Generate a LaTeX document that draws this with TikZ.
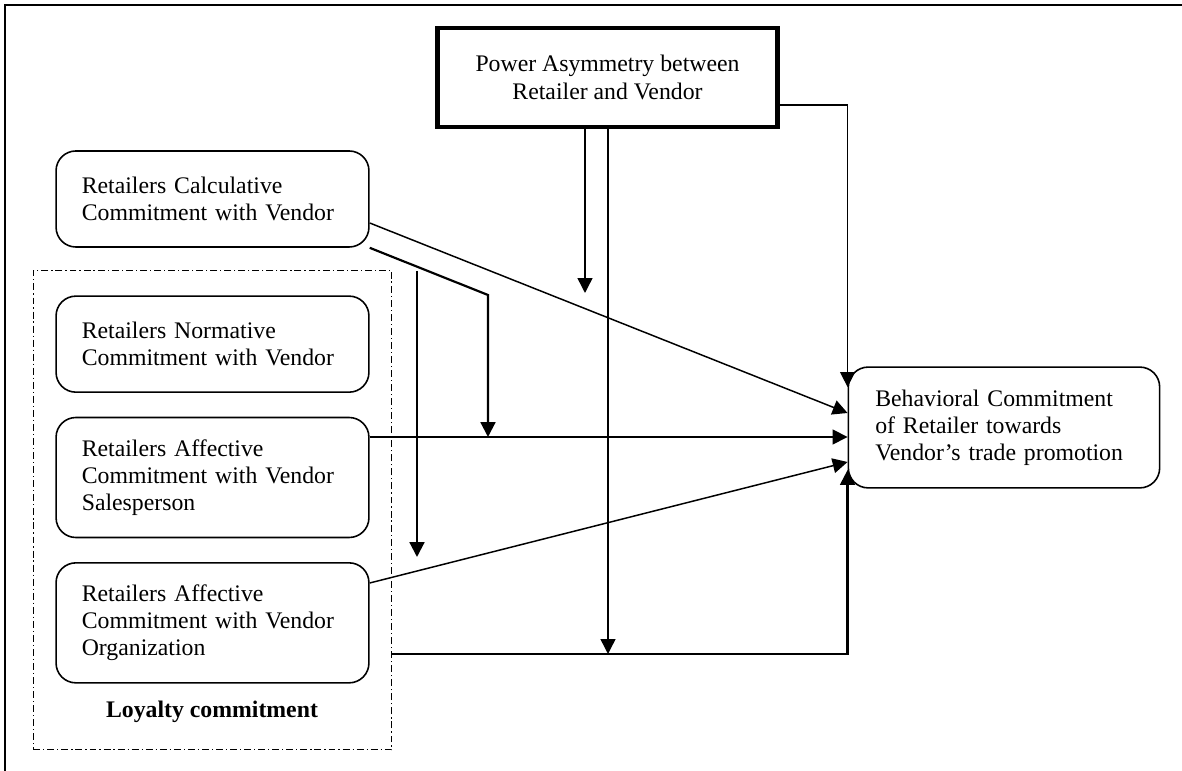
\documentclass[tikz,border=0pt]{standalone}
\usepackage{fontspec}
\setmainfont{Liberation Serif}
\usetikzlibrary{positioning, arrows.meta, calc}
\tikzset{
	>={Triangle[length=7.5pt,width=7.5pt]},
	x=0.505pt, y=-0.505pt,
	every node/.style={font=\fontsize{12pt}{13.7pt}\selectfont},
	factor/.style={draw, rounded corners=10pt, line width=0.8pt, text width=132pt, inner xsep=13pt, align=left},
	powerbox/.style={draw, line width=2.5pt, minimum width=172pt, minimum height=50pt, align=center},
	loyaltybox/.style={draw, line width=0.75pt, dash pattern=on 3.5pt off 1.5pt on 0.6pt off 1.5pt, minimum width=181pt, minimum height=242pt},
	link/.style={->, line width=0.75pt},
	boldlink/.style={->, line width=1.1pt},
}

\begin{document}
\begin{tikzpicture}
	\useasboundingbox (0,0) rectangle (1182,771);
	\draw[line width=1.3pt] (1182,5) -- (5,5) -- (5,771);

	\node[loyaltybox] (LOYAL) at (212.5,510) {};
	\node[font=\fontsize{12pt}{13.7pt}\selectfont\bfseries] (LOYALTEXT) at (212,712) {Loyalty commitment};

	\node[powerbox] (POWER) at (607.5,77.5) {Power Asymmetry between\\Retailer and Vendor};
	\node[factor, minimum height=48.5pt] (CALC) at (212.5,199) {Retailers Calculative\\Commitment with Vendor};
	\node[factor, minimum height=48.5pt, below=24pt of CALC] (NORM) {Retailers Normative\\Commitment with Vendor};
	\node[factor, minimum height=60.6pt, below=12pt of NORM] (SALES) {Retailers Affective\\Commitment with Vendor\\Salesperson};
	\node[factor, minimum height=60.6pt, below=12pt of SALES] (ORG) {Retailers Affective\\Commitment with Vendor\\Organization};
	\node[factor, text width=130pt, inner xsep=13.6pt, minimum height=61pt] (BEHAV) at (1004,427.5) {Behavioral Commitment\\of Retailer towards\\Vendor's trade promotion};

	\coordinate (BEND) at (488,295);
	\coordinate (MODTOP) at (417,271);
	\coordinate (ONCALC) at (585,293);
	\coordinate (ONBASE) at (608,654);

	\draw[link] (CALC.east |- 0,223) -- (BEHAV.west |- 0,413);
	\draw[boldlink] (CALC.south east) -- (BEND) -- (BEND |- 0,437);
	\draw[boldlink] (MODTOP) -- (MODTOP |- 0,557);
	\draw[link] (POWER.south -| ONCALC) -- (ONCALC);
	\draw[link] (POWER.south -| ONBASE) -- (ONBASE);
	\draw[link] (POWER.east |- 0,105) -| (BEHAV.west |- 0,387);
	\draw[link] (SALES.east |- 0,437) -- (BEHAV.west |- 0,437);
	\draw[link] (ORG.east |- 0,583) -- (BEHAV.west |- 0,462);
	\draw[boldlink] (LOYAL.east |- ONBASE) -| (BEHAV.west |- 0,470);
\end{tikzpicture}
\end{document}
